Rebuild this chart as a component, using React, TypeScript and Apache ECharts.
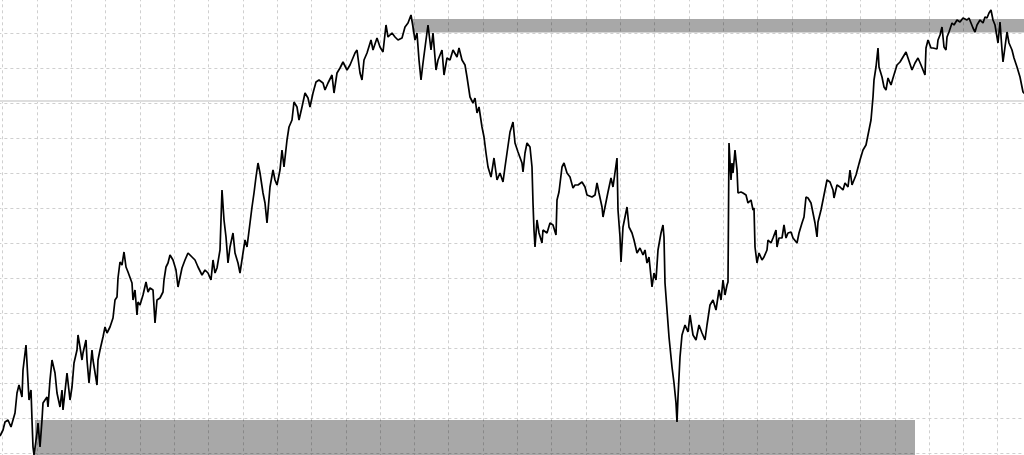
import React, { useEffect, useRef } from "react";
import * as echarts from "echarts";

// Trading sessions (x) and closing prices (y)
const sessions: number[] = [
  0, 3, 5, 8, 11, 13, 15, 17, 19, 22, 23, 26, 27, 29, 31, 32, 33, 34, 37, 38,
  40, 42, 43, 47, 48, 50, 52, 55, 57, 60, 62, 63, 67, 70, 72, 74, 77, 78, 80, 82,
  83, 86, 87, 89, 92, 93, 97, 98, 100, 103, 105, 107, 110, 113, 115, 117, 118, 120, 122, 124,
  126, 128, 132, 133, 135, 137, 138, 140, 143, 146, 148, 150, 153, 155, 157, 160, 163, 164, 166, 168,
  170, 173, 176, 178, 182, 185, 188, 192, 195, 198, 202, 205, 208, 211, 213, 215, 217, 220, 222, 224,
  226, 228, 230, 233, 235, 238, 240, 243, 245, 247, 250, 252, 254, 256, 258, 260, 263, 265, 267, 270,
  273, 275, 277, 280, 282, 284, 287, 289, 292, 294, 297, 299, 302, 305, 308, 310, 313, 316, 319, 323,
  325, 328, 332, 334, 337, 340, 343, 347, 350, 355, 357, 360, 362, 364, 367, 371, 373, 377, 380, 383,
  386, 388, 392, 395, 398, 402, 405, 408, 411, 413, 415, 417, 419, 421, 423, 426, 428, 431, 433, 436,
  438, 442, 444, 447, 450, 453, 457, 459, 462, 465, 467, 470, 473, 475, 477, 479, 482, 484, 486, 488,
  491, 494, 497, 500, 503, 505, 507, 510, 513, 515, 518, 522, 523, 525, 527, 530, 532, 533, 534, 535,
  537, 539, 542, 543, 547, 550, 553, 556, 557, 559, 562, 564, 567, 570, 573, 575, 578, 582, 585, 587,
  592, 595, 597, 599, 602, 603, 606, 608, 611, 613, 617, 618, 620, 621, 623, 625, 627, 629, 632, 634,
  637, 640, 643, 645, 647, 649, 652, 654, 656, 658, 661, 663, 664, 665, 667, 669, 672, 674, 676, 677,
  678, 680, 682, 685, 688, 690, 693, 696, 699, 702, 705, 707, 710, 713, 716, 719, 721, 723, 725, 727,
  728, 729, 731, 732, 733, 735, 737, 738, 741, 743, 746, 748, 751, 753, 754, 755, 757, 759, 762, 764,
  767, 768, 771, 773, 776, 777, 779, 782, 784, 786, 788, 791, 793, 797, 799, 802, 804, 806, 808, 811,
  813, 815, 817, 818, 821, 823, 825, 827, 830, 833, 834, 837, 840, 843, 845, 848, 850, 852, 856, 860,
  863, 866, 869, 871, 873, 874, 876, 878, 879, 882, 884, 886, 888, 891, 893, 897, 900, 903, 906, 908,
  912, 915, 918, 921, 923, 925, 926, 928, 931, 933, 937, 938, 940, 942, 944, 946, 947, 949, 952, 954,
  957, 960, 963, 967, 969, 973, 975, 977, 980, 983, 985, 987, 989, 991, 993, 995, 997, 998, 1000, 1002,
  1003, 1005, 1007, 1009, 1012, 1014, 1017, 1020, 1023, 1026,
];

const closes: number[] = [
  19, 25, 33, 35, 28, 35, 42, 62, 70, 58, 85, 110, 92, 55, 65, 35, 8, 0, 22, 32,
  8, 35, 52, 58, 48, 75, 95, 82, 62, 48, 65, 45, 82, 55, 68, 92, 105, 120, 108, 95,
  102, 115, 95, 72, 105, 95, 70, 95, 105, 118, 128, 122, 128, 137, 155, 158, 177, 193, 190, 203,
  188, 183, 172, 155, 165, 140, 153, 150, 160, 173, 163, 167, 165, 132, 155, 157, 163, 175, 188, 192,
  200, 195, 185, 168, 187, 195, 202, 198, 195, 188, 180, 185, 182, 175, 195, 182, 187, 205, 265, 235,
  218, 192, 208, 222, 202, 192, 182, 202, 215, 208, 232, 248, 262, 278, 292, 282, 262, 252, 232, 268,
  285, 275, 270, 285, 305, 288, 315, 328, 335, 353, 348, 335, 348, 362, 357, 348, 362, 373, 375, 372,
  365, 372, 380, 362, 382, 387, 393, 385, 390, 402, 405, 382, 375, 395, 402, 415, 405, 417, 408, 403,
  430, 418, 422, 418, 415, 417, 428, 432, 440, 428, 415, 422, 395, 375, 392, 415, 430, 405, 422, 385,
  395, 405, 380, 397, 395, 405, 398, 407, 395, 390, 378, 358, 352, 357, 342, 348, 328, 318, 302, 288,
  278, 297, 275, 282, 273, 288, 302, 323, 333, 312, 303, 292, 283, 302, 312, 308, 288, 252, 225, 208,
  235, 222, 212, 225, 222, 232, 230, 220, 255, 263, 288, 292, 282, 278, 267, 270, 270, 273, 268, 260,
  258, 260, 272, 262, 248, 238, 253, 263, 277, 268, 297, 245, 218, 193, 228, 238, 248, 228, 222, 215,
  202, 207, 200, 205, 192, 198, 168, 182, 175, 205, 222, 230, 218, 172, 145, 118, 88, 72, 52, 33,
  58, 98, 120, 130, 123, 140, 120, 115, 130, 122, 115, 130, 150, 155, 145, 165, 155, 175, 160, 170,
  173, 312, 275, 292, 282, 305, 285, 262, 263, 262, 260, 252, 255, 245, 247, 208, 192, 202, 195, 198,
  205, 215, 212, 217, 225, 208, 217, 217, 230, 217, 222, 223, 217, 212, 222, 232, 238, 258, 257, 252,
  242, 232, 218, 233, 245, 255, 265, 275, 273, 265, 257, 270, 268, 265, 272, 268, 285, 270, 280, 295,
  305, 310, 325, 335, 358, 375, 388, 407, 388, 378, 368, 365, 377, 370, 377, 390, 393, 398, 403, 397,
  385, 392, 397, 390, 385, 380, 407, 415, 407, 407, 406, 415, 420, 428, 408, 405, 418, 423, 432, 430,
  435, 433, 437, 435, 437, 427, 423, 430, 435, 432, 438, 437, 442, 445, 435, 430, 418, 412, 433, 405,
  393, 408, 423, 412, 405, 397, 388, 378, 363, 360,
];

// Shaded zones: [startSession, endSession, lowPrice, highPrice]
const upperZone: number[] = [412.5, 1032, 422.5, 436];
const lowerZone: number[] = [35, 915, -33.3, 35];
// Reference level
const referenceLevel = 354.3;

// Axis ranges (grid spacing)
const xMin = -31.61;
const xMax = 1032;
const xStep = 34.31;
const yMin = -33.3;
const yMax = 456.7;
const yStep = 35;

export default function App() {
  const ref = useRef<HTMLDivElement>(null);

  useEffect(() => {
    if (!ref.current) return;
    const chart = echarts.init(ref.current, undefined, { renderer: "svg" });
    const data = sessions.map((s, i) => [s, closes[i]]);
    const gridLine = {
      show: true,
      lineStyle: { color: "#cfcfcf", width: 1, type: [3, 3] as number[] },
    };
    chart.setOption({
      animation: false,
      backgroundColor: "#ffffff",
      grid: {
        left: xMin,
        right: 1024 - xMax,
        top: -1.7,
        bottom: yMin,
        outerBoundsMode: "none",
        containLabel: false,
      },
      xAxis: {
        type: "value",
        min: xMin,
        max: xMax,
        interval: xStep,
        axisLine: { show: false },
        axisTick: { show: false },
        axisLabel: { show: false },
        splitLine: gridLine,
      },
      yAxis: {
        type: "value",
        min: yMin,
        max: yMax,
        interval: yStep,
        axisLine: { show: false },
        axisTick: { show: false },
        axisLabel: { show: false },
        splitLine: gridLine,
      },
      series: [
        {
          type: "line",
          data,
          showSymbol: false,
          symbol: "none",
          lineStyle: { color: "#000000", width: 1.7 },
          z: 5,
          markArea: {
            silent: true,
            itemStyle: { color: "rgba(0,0,0,0.34)" },
            data: [
              [
                { xAxis: upperZone[0], yAxis: upperZone[3] },
                { xAxis: upperZone[1], yAxis: upperZone[2] },
              ],
              [
                { xAxis: lowerZone[0], yAxis: lowerZone[3] },
                { xAxis: lowerZone[1], yAxis: lowerZone[2] },
              ],
            ],
          },
          markLine: {
            silent: true,
            symbol: "none",
            label: { show: false },
            lineStyle: { color: "#dedede", width: 2, type: "solid" },
            data: [{ yAxis: referenceLevel }],
          },
        },
      ],
    });
    return () => chart.dispose();
  }, []);

  return (
    <div
      ref={ref}
      style={{ position: "absolute", left: 0, top: 0, width: 1024, height: 455 }}
    />
  );
}
